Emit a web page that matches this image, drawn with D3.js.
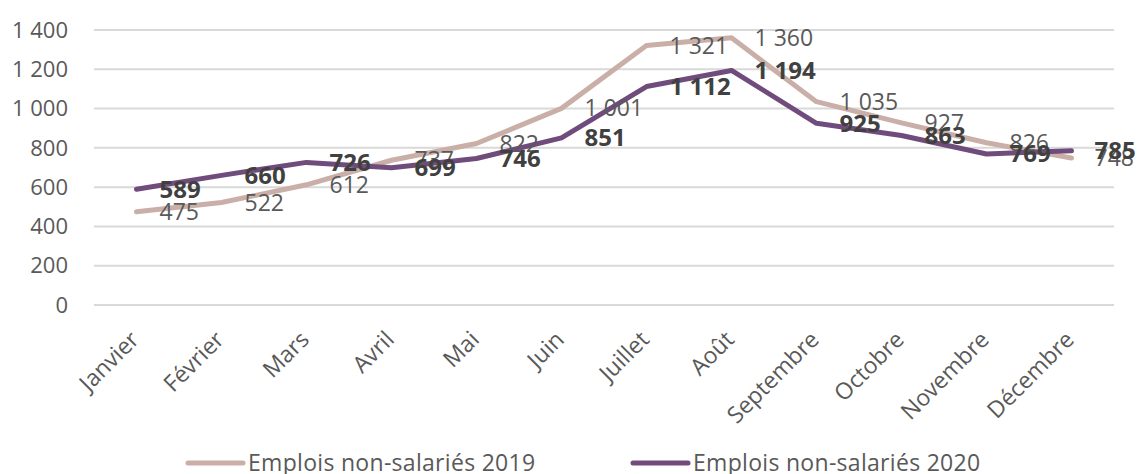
<!DOCTYPE html>
<html>
<head>
<meta charset="utf-8">
<script src="https://cdn.jsdelivr.net/npm/d3@7"></script>
<style>
  body { margin: 0; background: #fff; }
  svg { display: block; font-family: "Open Sans", Lato, sans-serif; }
  .grid line { stroke: #d9d9d9; stroke-width: 2; }
  .ytick text { fill: #595959; font-size: 22px; }
  .xtick text { fill: #595959; font-size: 23px; }
</style>
</head>
<body>
<div id="chart"></div>
<script>
var months = ["Janvier", "Février", "Mars", "Avril", "Mai", "Juin", "Juillet",
  "Août", "Septembre", "Octobre", "Novembre", "Décembre"];
var emplois2019 = [475, 522, 612, 737, 822, 1001, 1321, 1360, 1035, 927, 826, 748];
var emplois2020 = [589, 660, 726, 699, 746, 851, 1112, 1194, 925, 863, 769, 785];
var yTicks = [0, 200, 400, 600, 800, 1000, 1200, 1400];

var W = 1137, H = 474;
var margin = {top: 30, left: 94, right: 23, bottom: 169};

var svg = d3.select("#chart").append("svg")
  .attr("width", W).attr("height", H);

var x = d3.scaleBand().domain(months).range([margin.left, W - margin.right]);
var y = d3.scaleLinear().domain([0, 1400]).range([H - margin.bottom, margin.top]);

// french thousands separator
var fmt = function(v) {
  var s = String(v);
  return s.length > 3 ? s.slice(0, s.length - 3) + " " + s.slice(-3) : s;
};

// gridlines
svg.append("g").attr("class", "grid")
  .selectAll("line").data(yTicks).enter().append("line")
  .attr("x1", margin.left).attr("x2", W - margin.right)
  .attr("y1", function(d) { return y(d); })
  .attr("y2", function(d) { return y(d); });

// y labels
svg.append("g").attr("class", "ytick")
  .selectAll("text").data(yTicks).enter().append("text")
  .attr("x", 68)
  .attr("y", function(d) { return y(d); })
  .attr("dy", "0.35em")
  .attr("text-anchor", "end")
  .text(fmt);

// x labels, rotated
svg.append("g").attr("class", "xtick")
  .selectAll("text").data(months).enter().append("text")
  .attr("text-anchor", "end")
  .attr("transform", function(d) {
    return "translate(" + (x(d) + x.bandwidth() / 2 + 4) + ",341) rotate(-45)";
  })
  .text(function(d) { return d; });

var cx = function(d, i) { return x(months[i]) + x.bandwidth() / 2; };
var line = d3.line().x(cx).y(function(d) { return y(d); });

var series = [
  {name: "Emplois non-salariés 2019", values: emplois2019, color: "#c9afa7", weight: "normal", fill: "#595959", size: "23px"},
  {name: "Emplois non-salariés 2020", values: emplois2020, color: "#6f4c7c", weight: "bold", fill: "#404040", size: "24px"}
];

series.forEach(function(s) {
  svg.append("path")
    .datum(s.values)
    .attr("fill", "none")
    .attr("stroke", s.color)
    .attr("stroke-width", 5)
    .attr("stroke-linejoin", "round")
    .attr("stroke-linecap", "round")
    .attr("d", line);
});

series.forEach(function(s) {
  svg.append("g").selectAll("text").data(s.values).enter().append("text")
    .attr("x", function(d, i) { return cx(d, i) + 23; })
    .attr("y", function(d) { return y(d); })
    .attr("dy", "0.35em")
    .attr("font-size", s.size)
    .attr("font-weight", s.weight)
    .attr("fill", s.fill)
    .text(fmt);
});

// legend
var legendX = [188, 633];
series.forEach(function(s, i) {
  var g = svg.append("g").attr("transform", "translate(" + legendX[i] + ",463)");
  g.append("line")
    .attr("x1", 0).attr("x2", 55)
    .attr("stroke", s.color).attr("stroke-width", 5)
    .attr("stroke-linecap", "round");
  g.append("text")
    .attr("x", 60).attr("y", 8)
    .attr("font-size", "23px")
    .attr("letter-spacing", "0.3px")
    .attr("fill", "#595959")
    .text(s.name);
});
</script>
</body>
</html>
